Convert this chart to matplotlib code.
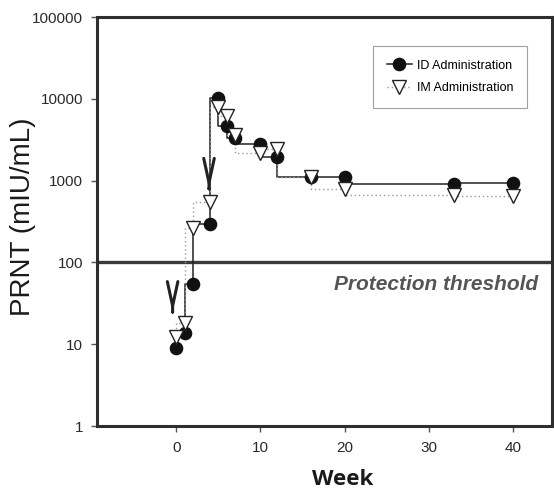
import matplotlib
matplotlib.use("Agg")
import matplotlib.pyplot as plt

# weeks and PRNT titres
weeks = [0, 1, 2, 4, 5, 6, 7, 10, 12, 16, 20, 33, 40]
id_prnt = [9.0, 13.7, 54, 292, 10100, 4690, 3290, 2800, 1960, 1100, 1100, 910, 925]
im_prnt = [12.2, 18.3, 263, 543, 8000, 6160, 3640, 2150, 2410, 1120, 780, 667, 648]

threshold = 100
arrow_weeks = [-0.42, 3.9]
arrow_tips = [24, 770]

y_ticks = [1, 10, 100, 1000, 10000, 100000]
x_ticks = [0, 10, 20, 30, 40]

plt.rcParams["font.family"] = ["Liberation Sans", "DejaVu Sans"]

fig = plt.figure(figsize=(5.54, 4.90), dpi=100)
ax = fig.add_axes([0.175, 0.1306, 0.8213, 0.8347])

spine_col = "#2e2e2e"

ax.plot(weeks, id_prnt, drawstyle="steps-pre", color="#222222", lw=1.1, zorder=2)
ax.plot(weeks, im_prnt, drawstyle="steps-pre", color="#9a9a9a", lw=1.0, ls=(0, (1, 2)), zorder=2)
ax.plot(weeks, id_prnt, ls="none", marker="o", ms=8.8, mfc="#111111", mec="#111111", zorder=3)
ax.plot(weeks, im_prnt, ls="none", marker="v", ms=10, mfc="white", mec="#222222", mew=1.0, zorder=4)

# legend proxies
ax.plot([], [], color="#222222", lw=1.1, marker="o", ms=8.8, mfc="#111111", mec="#111111",
        label="ID Administration")
ax.plot([], [], color="#9a9a9a", lw=1.0, ls=(0, (1, 2)), marker="v", ms=10, mfc="white",
        mec="#222222", label="IM Administration")

ax.axhline(threshold, color="#3a3a3a", lw=2.4, zorder=1)
ax.text(43.0, 53, "Protection threshold", ha="right", va="center", fontsize=15,
        style="italic", fontweight="bold", color="#555555")

for wk, tip in zip(arrow_weeks, arrow_tips):
    ax.annotate("", xy=(wk, tip), xytext=(0, 1), textcoords="offset points",
                arrowprops=dict(arrowstyle="->,head_length=1.75,head_width=0.38",
                                lw=2.2, color="#222222", shrinkA=0, shrinkB=0))

ax.set_yscale("log")
ax.set_ylim(1, 100000)
ax.set_xlim(-9.4, 44.6)
ax.set_yticks(y_ticks)
ax.set_yticklabels([str(v) for v in y_ticks])
ax.minorticks_off()
ax.set_xticks(x_ticks)

for s in ax.spines.values():
    s.set_linewidth(2.2)
    s.set_color(spine_col)

ax.tick_params(axis="both", direction="out", length=4, width=1.0, color="#555555",
               labelsize=11, labelcolor="#2a2a2a")
ax.tick_params(axis="x", pad=7)
ax.tick_params(axis="y", pad=6)

ax.set_ylabel("PRNT (mIU/mL)", fontsize=20, color="#1a1a1a")
ax.yaxis.label.set_va("center")
ax.yaxis.set_label_coords(-0.163, 0.512)
ax.set_xlabel("Week", fontsize=16, fontweight="bold", family=["Open Sans", "DejaVu Sans"],
              color="#1a1a1a")
ax.xaxis.set_label_coords(0.539, -0.104)

leg = ax.legend(loc="upper right", bbox_to_anchor=(0.945, 0.929), borderaxespad=0,
                fontsize=9, frameon=True, fancybox=False, handlelength=2.0,
                borderpad=1.1, labelspacing=0.85, handletextpad=0.4)
leg.get_frame().set_edgecolor("#888888")
leg.get_frame().set_linewidth(0.8)

fig.savefig("out.png", dpi=100)
